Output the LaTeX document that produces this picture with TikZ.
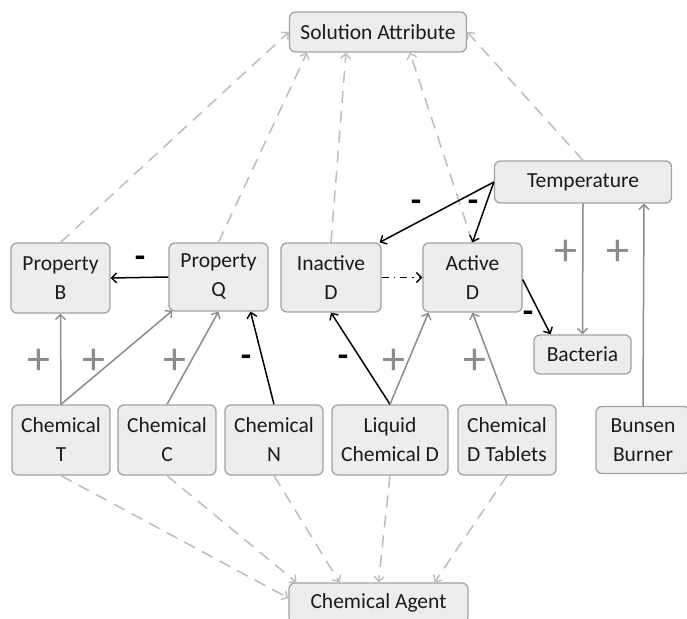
\documentclass[tikz,border=0pt]{standalone}
\usepackage{fontspec}
\setmainfont{Carlito}
\usetikzlibrary{arrows.meta}
\definecolor{boxfill}{HTML}{EDEDED}
\definecolor{boxline}{HTML}{A3A3A3}
\definecolor{txt}{HTML}{1A1A1A}
\definecolor{solidgray}{HTML}{8C8C8C}
\definecolor{dashgray}{HTML}{BDBDBD}
\tikzset{
  box/.style={draw=boxline, line width=1.3pt, fill=boxfill, rounded corners=6pt,
    align=center, text=txt, font=\fontsize{21.5}{29}\selectfont, inner sep=1pt},
  arrowtip/.style={-{Straight Barb[length=5pt,width=10pt,line width=1.4pt]}},
  posedge/.style={arrowtip, draw=solidgray, line width=1.5pt},
  negedge/.style={arrowtip, draw=black, line width=1.5pt},
  dshedge/.style={arrowtip, draw=dashgray, line width=1.5pt, dash pattern=on 12pt off 8pt},
  plussign/.style={text=solidgray, font=\fontsize{46}{46}\selectfont, inner sep=0pt},
  minussign/.style={text=black, font=\bfseries\fontsize{34}{34}\selectfont, inner sep=0pt},
}
\begin{document}
\begin{tikzpicture}[x=1pt,y=-1pt]
\fill[white] (0,0) rectangle (687,618);
\useasboundingbox (0,0) rectangle (687,618);
% nodes
\node[box, minimum width=177pt, minimum height=40pt] (sa) at (378,32) {Solution Attribute};
\node[box, minimum width=177pt, minimum height=42pt] (temp) at (583,182) {Temperature};
\node[box, minimum width=99pt, minimum height=70pt] (pb) at (60.5,278) {Property\\B};
\node[box, minimum width=99pt, minimum height=68pt] (pq) at (218.5,277) {Property\\Q};
\node[box, minimum width=100pt, minimum height=69pt] (id) at (331,277.5) {Inactive\\D};
\node[box, minimum width=99pt, minimum height=69pt] (ad) at (472.5,277.5) {Active\\D};
\node[box, minimum width=97pt, minimum height=39pt] (bac) at (582.5,354.5) {Bacteria};
\node[box, minimum width=98pt, minimum height=70pt] (ct) at (61,440) {Chemical\\T};
\node[box, minimum width=98pt, minimum height=70pt] (cc) at (167,440) {Chemical\\C};
\node[box, minimum width=98pt, minimum height=70pt] (cn) at (274,440) {Chemical\\N};
\node[box, minimum width=116pt, minimum height=70pt] (lcd) at (390,440) {Liquid\\Chemical D};
\node[box, minimum width=98pt, minimum height=70pt] (cdt) at (507,440) {Chemical\\D Tablets};
\node[box, minimum width=94pt, minimum height=67pt] (bb) at (643,440) {Bunsen\\Burner};
\node[box, minimum width=179pt, minimum height=40pt] (ca) at (378.5,603) {Chemical Agent};
% dashed to Solution Attribute
\draw[dshedge] (pb.north) -- (sa.west);
\draw[dshedge] (pq.north) -- ([xshift=-71pt]sa.south);
\draw[dshedge] (id.north) -- ([xshift=-32pt]sa.south);
\draw[dshedge] (ad.north) -- ([xshift=32pt]sa.south);
\draw[dshedge] (temp.north) -- (sa.east);
% dashed to Chemical Agent
\draw[dshedge] (ct.south) -- ([yshift=5pt]ca.west);
\draw[dshedge] (cc.south) -- ([xshift=-82pt]ca.north);
\draw[dshedge] (cn.south) -- ([xshift=-39pt]ca.north);
\draw[dshedge] (lcd.south) -- (ca.north);
\draw[dshedge] (cdt.south) -- ([xshift=56pt]ca.north);
% solid relations
\draw[posedge] (ct.north) -- (pb.south);
\draw[posedge] (ct.north) -- ([xshift=4pt,yshift=1pt]pq.south west);
\draw[posedge] (cc.north) -- (pq.south);
\draw[negedge] (cn.north) -- ([xshift=32pt]pq.south);
\draw[negedge] (lcd.north) -- (id.south);
\draw[posedge] (lcd.north) -- ([xshift=-44pt]ad.south);
\draw[posedge] (cdt.north) -- (ad.south);
\draw[negedge] (pq.west) -- (pb.east);
\draw[negedge, dash pattern=on 7pt off 5pt on 1.5pt off 5pt] (id.east) -- (ad.west);
\draw[negedge] (temp.west) -- ([xshift=-2pt]id.north east);
\draw[negedge] (temp.west) -- (ad.north);
\draw[negedge] ([yshift=-2pt]ad.east) -- ([xshift=-32pt]bac.north);
\draw[posedge] (temp.south) -- (bac.north);
\draw[posedge] (bb.north) -- ([xshift=61pt]temp.south);
% signs
\node[minussign] (m1) at (140,262) {-};
\node[minussign] (m2) at (416,206) {-};
\node[minussign] (m3) at (473,206) {-};
\node[plussign] (p1) at (566,253) {+};
\node[plussign] (p2) at (618,253) {+};
\node[plussign] (p3) at (39,362) {+};
\node[plussign] (p4) at (94,362) {+};
\node[plussign] (p5) at (175,362) {+};
\node[minussign] (m4) at (246,361) {-};
\node[minussign] (m5) at (343,361) {-};
\node[plussign] (p6) at (394,362) {+};
\node[plussign] (p7) at (475,362) {+};
\node[minussign] (m6) at (528,317) {-};
\end{tikzpicture}
\end{document}
